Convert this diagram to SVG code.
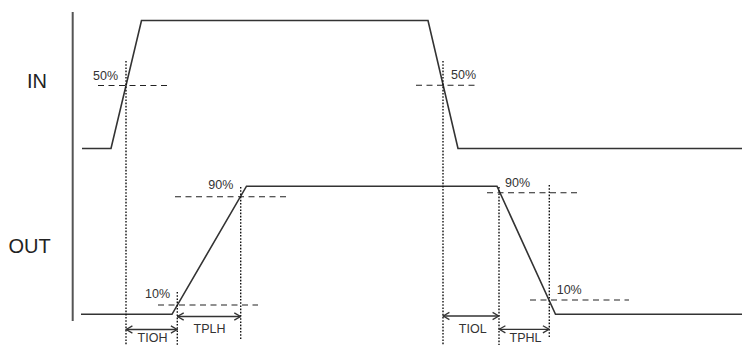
<svg xmlns="http://www.w3.org/2000/svg" width="742" height="345" viewBox="0 0 742 345">
<style>
.wave{fill:none;stroke:#333;stroke-width:1.6;stroke-linejoin:miter}
.axis{stroke:#555;stroke-width:2}
.dash{stroke:#222;stroke-width:1.1;stroke-dasharray:6,4.5;fill:none}
.dot{stroke:#111;stroke-width:1.4;stroke-dasharray:1.6,1.6;fill:none}
.arr{stroke:#333;stroke-width:1.3;fill:none;marker-start:url(#ah);marker-end:url(#ah)}
.lbl{font-family:"Liberation Sans",Arial,sans-serif;font-size:20px;fill:#222}
.pct{font-family:"Liberation Sans",Arial,sans-serif;font-size:12.5px;fill:#333}
.tm{font-family:"Liberation Sans",Arial,sans-serif;font-size:12.5px;fill:#333;text-anchor:middle}
</style>
<defs>
<marker id="ah" viewBox="0 0 10 10" refX="9.4" refY="5" markerWidth="10" markerHeight="10" markerUnits="userSpaceOnUse" orient="auto-start-reverse">
<path d="M3,1.4 L9.2,5 L3,8.6" fill="none" stroke="#333" stroke-width="1.3"/>
</marker>
</defs>
<g id="axis"><line class="axis" x1="72.7" y1="12" x2="72.7" y2="321"/></g>
<g id="labels">
<text class="lbl" x="27" y="88">IN</text>
<text class="lbl" x="8.5" y="253">OUT</text>
</g>
<g id="in-wave"><polyline class="wave" points="82,148.5 111,148.5 141.5,20.5 428,20.5 458,148.5 742,148.5"/></g>
<g id="out-wave"><polyline class="wave" points="81,314.3 172,314.3 246.5,186.2 497,186.2 555.5,314.3 742,314.3"/></g>
<g id="thresholds">
<line class="dash" x1="98" y1="85.5" x2="167" y2="85.5"/>
<line class="dash" x1="416" y1="85.3" x2="476" y2="85.3"/>
<line class="dash" x1="175" y1="196.7" x2="286" y2="196.7"/>
<line class="dash" x1="158" y1="305" x2="258" y2="305"/>
<line class="dash" x1="487" y1="192.7" x2="579" y2="192.7"/>
<line class="dash" x1="530" y1="300" x2="629" y2="300"/>
</g>
<g id="guides">
<line class="dot" x1="126" y1="61" x2="126" y2="345"/>
<line class="dot" x1="443" y1="61" x2="443" y2="345"/>
<line class="dot" x1="177.3" y1="292" x2="177.3" y2="345"/>
<line class="dot" x1="240.7" y1="187" x2="240.7" y2="340"/>
<line class="dot" x1="499" y1="187" x2="499" y2="345"/>
<line class="dot" x1="549.3" y1="185" x2="549.3" y2="338"/>
</g>
<g id="pct-labels">
<text class="pct" x="93" y="80">50%</text>
<text class="pct" x="451" y="79">50%</text>
<text class="pct" x="208.3" y="189.3">90%</text>
<text class="pct" x="145" y="298.3">10%</text>
<text class="pct" x="505" y="186.7">90%</text>
<text class="pct" x="556.7" y="294">10%</text>
</g>
<g id="connectors">
<line class="arr" x1="126" y1="329.5" x2="177.3" y2="329.5"/>
<line class="arr" x1="177.3" y1="316.5" x2="240.7" y2="316.5"/>
<line class="arr" x1="443" y1="316" x2="499" y2="316"/>
<line class="arr" x1="499" y1="329.3" x2="549.3" y2="329.3"/>
</g>
<g id="timing-labels">
<text class="tm" x="152.5" y="342">TIOH</text>
<text class="tm" x="209.5" y="332.5">TPLH</text>
<text class="tm" x="472.7" y="332.5">TIOL</text>
<text class="tm" x="525.5" y="342">TPHL</text>
</g>
</svg>
